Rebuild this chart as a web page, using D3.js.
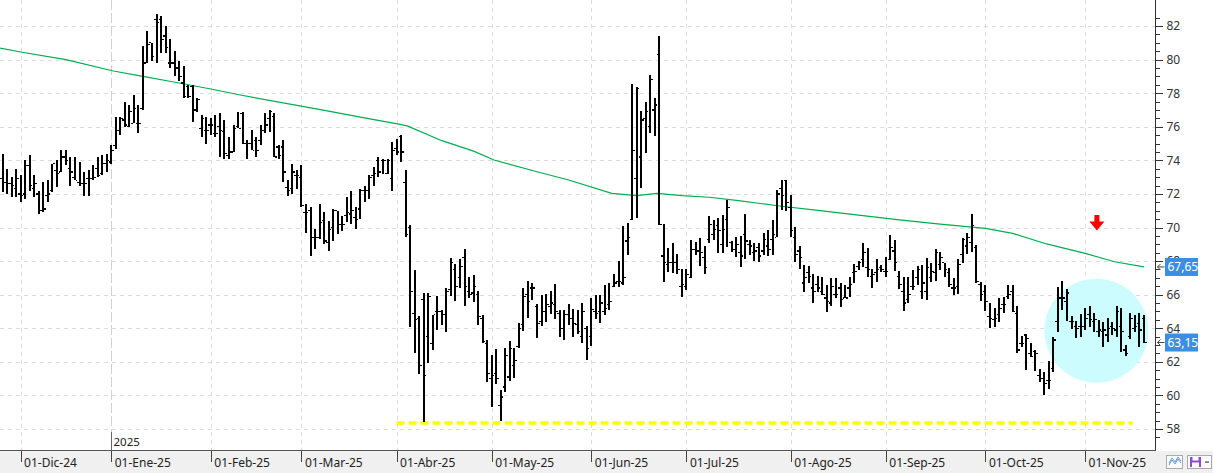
<!DOCTYPE html>
<html>
<head>
<meta charset="utf-8">
<style>
body { margin: 0; background: #fff; overflow: hidden; }
svg { display: block; font-family: "Noto Sans", "DejaVu Sans", sans-serif; }
</style>
</head>
<body>
<svg id="chart" width="1213" height="473"></svg>
<script src="https://cdn.jsdelivr.net/npm/d3@7"></script>
<script>
// daily bars, late Nov 2024 -> mid Nov 2025
var highs = [
74.4,73.5,73.0,73.5,73.1,74.0,74.3,73.1,72.2,72.7,
72.8,73.8,74.0,74.6,74.6,74.2,74.2,73.9,73.3,73.4,
73.7,74.2,74.3,74.4,74.9,76.6,76.6,77.5,77.3,77.9,
77.3,80.8,81.7,81.0,82.7,82.6,82.0,81.2,80.5,79.9,
79.6,78.5,78.5,77.7,76.7,76.6,76.5,76.7,76.8,76.4,
75.4,76.1,76.9,76.9,75.2,75.8,75.4,76.1,76.8,77.0,
76.8,74.9,75.2,72.8,73.8,73.4,73.7,71.4,71.2,69.9,
71.4,70.9,70.4,71.1,71.0,70.7,71.8,72.2,71.2,72.3,
72.5,73.1,73.6,74.2,74.1,74.1,75.1,75.3,75.5,73.4,
70.15,67.47,64.7,66.1,66.1,64.8,65.9,65.1,66.4,68.2,
67.8,68.1,68.7,67.07,67.17,66.2,64.8,63.3,62.4,62.76,
60.32,62.84,63.24,62.84,64.29,66.37,66.81,66.67,65.42,65.98,
66.02,66.22,66.61,65.09,65.09,65.42,65.15,65.09,65.48,64.15,
65.78,65.98,65.98,66.57,66.67,67.21,68.0,70.11,70.25,78.53,
78.39,76.94,77.49,79.08,77.69,81.42,70.19,68.8,69.06,68.4,
67.53,67.53,69.26,69.12,69.35,68.9,70.68,70.45,70.54,70.74,
71.64,69.21,69.45,69.49,70.8,69.25,69.1,69.1,69.65,69.85,
70.45,72.23,72.83,72.83,71.93,70.05,68.9,67.77,67.7,67.23,
67.11,67.03,66.57,66.97,66.97,66.71,66.57,67.03,67.8,68.02,
69.1,68.76,67.5,68.1,67.77,68.22,69.55,69.25,67.43,67.07,
67.07,67.47,67.7,67.77,68.16,67.86,68.7,68.56,67.86,67.56,
66.97,68.1,69.35,69.65,70.8,68.96,66.77,66.57,65.48,65.18,
65.78,65.88,66.57,66.57,65.32,63.54,63.66,63.1,62.7,61.55,
61.41,62.07,63.46,66.43,66.83,66.32,64.73,64.45,64.85,65.18,
65.32,64.89,64.49,64.39,64.59,64.39,65.32,65.18,63.0,64.93,
64.79,64.89,64.79
];
var lows = [
72.1,72.0,71.8,71.8,71.5,71.7,72.2,71.8,70.8,70.9,
71.5,72.1,72.4,73.3,73.7,72.5,72.8,72.5,71.9,71.9,
72.8,73.0,73.1,73.3,73.8,74.7,75.5,76.0,76.0,76.2,
75.6,77.0,79.8,79.9,79.8,80.4,80.4,79.5,79.0,78.7,
77.7,77.7,76.3,76.9,75.4,75.0,75.5,75.4,74.2,74.1,
74.1,74.5,75.9,75.0,74.1,74.6,74.2,74.9,75.6,75.7,
74.2,74.1,72.7,71.9,72.0,72.3,71.2,69.7,68.3,68.7,
69.3,69.0,68.6,69.2,69.6,69.8,70.3,70.2,69.9,70.5,
71.5,71.7,72.5,73.0,73.2,73.2,72.2,74.3,73.9,69.45,
64.05,62.5,61.3,58.43,61.95,62.7,63.9,64.2,63.8,65.9,
65.6,66.4,65.3,65.78,65.54,64.2,63.1,60.8,59.3,60.66,
58.47,60.18,60.86,61.02,62.84,63.83,64.63,65.68,63.44,64.15,
64.35,64.83,64.55,63.5,63.3,64.19,63.5,63.64,63.1,62.11,
62.96,64.55,64.29,64.79,65.09,66.47,66.47,66.57,68.36,70.45,
70.55,72.37,74.42,75.61,75.47,70.15,66.77,67.33,67.27,67.21,
65.88,66.27,66.97,68.36,67.72,67.23,69.06,69.25,68.5,68.5,
68.86,68.56,68.22,67.67,68.1,68.36,68.02,67.96,68.36,68.3,
68.36,69.45,71.04,71.0,69.45,67.96,67.5,66.18,66.71,65.52,
66.18,65.98,64.98,65.32,65.78,65.28,65.78,65.84,66.67,67.47,
67.63,67.07,66.38,66.77,67.37,67.07,68.06,67.43,66.32,65.04,
65.48,66.28,66.57,65.72,65.68,66.77,66.83,67.47,67.07,66.44,
65.98,66.04,67.86,68.42,68.56,66.67,65.64,65.05,63.99,64.09,
64.39,64.89,65.72,64.99,62.54,62.9,61.51,62.3,61.47,60.82,
60.02,60.36,61.41,63.8,65.09,64.45,63.93,63.4,63.46,63.9,
64.09,63.8,63.5,62.86,63.2,63.6,63.46,62.6,62.35,63.34,
63.8,62.9,63.1
];
var opens = [
72.9,72.7,72.6,72.3,72.0,72.0,73.7,72.3,72.0,71.0,
71.9,72.2,73.4,73.3,74.2,73.5,73.0,72.7,72.6,72.9,
72.9,73.5,73.2,73.8,73.9,74.9,75.8,76.4,76.0,76.2,
76.2,77.1,79.8,81.0,82.4,82.4,81.4,79.8,79.8,79.5,
78.6,78.4,78.4,77.0,75.9,75.8,76.1,75.6,76.0,75.7,
74.3,74.5,76.0,76.8,75.0,75.0,75.2,75.2,75.8,76.5,
76.6,74.8,74.8,72.4,72.3,73.1,73.0,70.9,71.0,69.4,
69.4,70.4,69.1,70.0,71.0,70.2,70.7,70.8,70.6,71.1,
72.2,72.2,73.1,74.0,74.0,73.2,72.9,74.7,75.4,72.7,
70.0,64.9,64.6,65.7,63.5,63.1,65.0,65.0,64.8,66.3,
67.5,67.0,68.2,66.2,66.1,66.0,64.6,63.1,61.0,61.3,
59.4,60.5,61.1,61.8,62.9,64.2,66.0,66.4,65.3,64.4,
65.0,65.3,65.4,64.9,64.0,64.8,64.6,64.2,63.5,64.0,
63.5,65.0,65.0,65.0,65.4,66.5,66.8,66.7,69.2,70.5,
72.9,74.2,76.5,76.0,77.0,80.3,68.3,67.8,67.9,67.9,
66.5,66.5,67.0,68.7,68.6,68.2,69.3,69.6,70.1,69.0,
70.5,69.1,68.7,68.5,69.6,69.0,68.5,68.8,68.6,68.9,
69.3,69.4,72.3,72.8,71.2,69.4,68.6,66.7,67.3,66.4,
66.6,66.2,65.8,65.5,66.0,66.4,65.8,66.4,67.3,67.7,
68.1,67.6,67.1,67.3,67.6,67.4,68.1,68.6,67.1,66.2,
65.7,66.5,67.0,66.2,66.2,67.0,67.3,67.8,67.9,67.3,
66.4,66.5,68.4,68.9,69.1,68.8,66.6,66.2,64.7,64.5,
64.8,65.4,65.9,66.2,64.9,63.1,63.6,62.5,62.6,61.2,
61.0,60.9,61.6,64.4,65.8,65.6,64.4,64.1,64.1,64.1,
64.8,64.4,63.8,63.8,63.6,64.1,63.9,64.1,62.7,63.5,
64.0,64.3,64.6
];
var closes = [
72.7,72.6,72.5,72.9,71.9,73.7,72.5,72.6,71.0,71.1,
72.0,73.8,73.2,74.2,74.0,73.3,72.8,72.6,72.6,72.9,
73.0,73.1,73.8,74.0,74.6,75.8,76.5,76.1,76.9,77.1,
76.2,79.8,80.9,80.2,82.2,81.2,80.7,79.8,79.5,79.0,
77.8,77.8,77.0,77.6,76.5,75.8,76.1,75.6,75.8,74.4,
74.5,75.9,75.9,75.0,75.0,74.6,74.6,75.8,76.1,76.9,
74.2,74.3,73.3,72.2,73.3,73.1,71.3,70.9,69.4,69.4,
70.3,69.2,69.9,71.0,70.2,70.2,70.9,71.0,70.5,72.2,
72.2,73.0,73.2,73.3,74.0,74.0,74.6,74.5,74.5,69.6,
66.2,64.5,61.8,61.2,65.9,64.8,65.0,64.8,66.2,67.9,
66.5,67.7,66.5,66.0,66.5,64.7,63.2,61.3,61.2,61.0,
59.9,62.4,62.8,62.1,64.0,65.9,65.6,66.4,64.3,65.0,
65.4,65.5,65.0,64.0,64.8,64.6,64.3,63.8,65.0,62.8,
65.1,64.9,65.5,65.2,65.6,66.7,66.8,67.0,69.4,74.6,
78.3,76.4,76.9,78.8,77.3,70.2,67.9,67.9,67.9,67.5,
66.6,67.2,68.7,68.6,68.5,67.6,70.2,69.9,69.8,69.9,
71.2,68.7,69.0,68.3,69.2,68.9,68.6,68.3,69.3,68.7,
69.6,72.0,71.9,71.5,69.8,68.4,68.2,67.0,67.1,66.2,
66.4,66.0,65.6,66.5,66.0,65.7,65.8,66.6,67.4,67.9,
68.5,67.5,67.2,67.5,67.5,67.4,68.8,67.9,66.6,65.5,
66.0,66.5,67.5,66.7,67.6,67.4,68.5,68.2,67.5,66.6,
66.4,67.8,69.3,69.4,70.1,66.8,66.0,65.6,64.6,64.6,
65.2,65.4,66.0,65.0,62.7,63.1,63.4,62.3,62.5,61.0,
60.7,60.9,63.3,65.8,65.8,66.1,64.4,64.0,64.1,64.6,
64.5,64.5,63.9,63.9,64.0,64.0,65.0,63.8,62.5,64.6,
64.1,63.9,63.15
];

// moving average, read at sample bars
var maIndex = [-0.5, 4, 14, 24.5, 31, 37.5, 46, 52.5, 70.5, 80.5, 87.5, 89.5, 97, 104, 108.5, 118, 125, 134.5, 140, 144.5, 150, 156, 162.5, 171.5, 180.5, 189, 198, 207, 217, 223, 230.5, 239, 245.5, 252];
var maValue = [80.68, 80.45, 80.0, 79.32, 79.0, 78.68, 78.25, 77.89, 77.0, 76.5, 76.16, 76.04, 75.17, 74.55, 74.02, 73.32, 72.83, 72.03, 71.9, 72.03, 71.9, 71.8, 71.6, 71.28, 71.0, 70.74, 70.45, 70.2, 69.95, 69.65, 69.02, 68.46, 67.96, 67.65];

var monthLabels = ["01-Dic-24", "01-Ene-25", "01-Feb-25", "01-Mar-25", "01-Abr-25", "01-May-25", "01-Jun-25", "01-Jul-25", "01-Ago-25", "01-Sep-25", "01-Oct-25", "01-Nov-25"];
var monthIndex = [4, 24, 46, 66, 87, 108, 130, 151, 174, 195, 217, 239];
var yearIndex = 24, yearLabel = "2025";

var yTicks = [58, 60, 62, 64, 66, 68, 70, 72, 74, 76, 78, 80, 82];
var yMinor = d3.range(57.5, 83, 0.5);

var support = { value: 58.35, from: 87, to: 249.5 };
var zone = { index: 241.5, value: 63.85 };
var arrowAt = { index: 241.6, value: 70.75 };
var lastValues = [67.65, 63.15];

var W = 1213, H = 473;
var axisX = 1155.5, axisY = 450.5;
var svg = d3.select("#chart");

var x = d3.scaleLinear().domain([0, highs.length - 1]).range([2.5, 1144]);
var y = d3.scaleLinear().domain([58, 82]).range([429, 26]);

var fmt = d3.formatLocale({ decimal: ",", thousands: ".", grouping: [3], currency: ["", ""] }).format(".2f");

// bottom strip
svg.append("rect")
  .attr("x", 0).attr("y", 451).attr("width", W).attr("height", H - 451)
  .attr("fill", "#f0f0f0");

// grid
var grid = svg.append("g").attr("shape-rendering", "crispEdges").attr("fill", "none");
grid.selectAll(".gh").data(yTicks).join("line").attr("class", "gh")
  .attr("x1", 0).attr("x2", axisX)
  .attr("y1", function(d) { return Math.round(y(d)) + 0.5; })
  .attr("y2", function(d) { return Math.round(y(d)) + 0.5; })
  .attr("stroke", "#dcdcdc").attr("stroke-dasharray", "4,4");
grid.selectAll(".gv").data(monthIndex).join("line").attr("class", "gv")
  .attr("x1", function(d) { return Math.round(x(d)) + 0.5; })
  .attr("x2", function(d) { return Math.round(x(d)) + 0.5; })
  .attr("y1", 0).attr("y2", axisY)
  .attr("stroke", function(d) { return d === yearIndex ? "#d0d0d0" : "#dcdcdc"; })
  .attr("stroke-width", function(d) { return d === yearIndex ? 1.5 : 1; })
  .attr("stroke-dasharray", function(d) { return d === yearIndex ? "10,3" : "4,4"; });

// highlighted zone
svg.append("circle")
  .attr("cx", x(zone.index)).attr("cy", y(zone.value)).attr("r", 52)
  .attr("fill", "#ccfcfd");

// support line
svg.append("line")
  .attr("x1", x(support.from)).attr("x2", x(support.to))
  .attr("y1", y(support.value)).attr("y2", y(support.value))
  .attr("stroke", "#ffff00").attr("stroke-width", 3.5).attr("stroke-dasharray", "8,4");

// moving average
svg.append("path")
  .datum(maIndex.map(function(d, i) { return [d, maValue[i]]; }))
  .attr("fill", "none").attr("stroke", "#00ad4f").attr("stroke-width", 1.2)
  .attr("d", d3.line().x(function(d) { return x(d[0]); }).y(function(d) { return y(d[1]); }));

// OHLC bars
var bars = svg.append("g").attr("stroke", "#000").attr("shape-rendering", "crispEdges");
var idx = d3.range(highs.length);
bars.selectAll(".hl").data(idx).join("line").attr("class", "hl")
  .attr("x1", function(i) { return x(i); }).attr("x2", function(i) { return x(i); })
  .attr("y1", function(i) { return y(highs[i]); }).attr("y2", function(i) { return y(lows[i]); })
  .attr("stroke-width", 2);
bars.selectAll(".op").data(idx).join("line").attr("class", "op")
  .attr("x1", function(i) { return x(i) - 2.5; }).attr("x2", function(i) { return x(i) - 1; })
  .attr("y1", function(i) { return y(opens[i]); }).attr("y2", function(i) { return y(opens[i]); })
  .attr("stroke-width", 1.2);
bars.selectAll(".cl").data(idx).join("line").attr("class", "cl")
  .attr("x1", function(i) { return x(i) + 1; }).attr("x2", function(i) { return x(i) + 2.5; })
  .attr("y1", function(i) { return y(closes[i]); }).attr("y2", function(i) { return y(closes[i]); })
  .attr("stroke-width", 1.2);

// red arrow
var ax = x(arrowAt.index), ay = y(arrowAt.value);
svg.append("path")
  .attr("d", "M" + (ax - 2.5) + "," + ay + "h5v6.5h5l-7.5,9l-7.5,-9h5z")
  .attr("fill", "#ff0000");

// right axis
svg.append("line")
  .attr("x1", axisX).attr("x2", axisX).attr("y1", 0).attr("y2", axisY)
  .attr("stroke", "#333").attr("shape-rendering", "crispEdges");
var yMinorAxis = svg.append("g").attr("transform", "translate(" + axisX + ",0)")
  .call(d3.axisRight(y).tickValues(yMinor).tickSize(4).tickFormat(""));
var yAxis = svg.append("g").attr("transform", "translate(" + axisX + ",0)")
  .call(d3.axisRight(y).tickValues(yTicks).tickSize(7).tickPadding(4));
[yMinorAxis, yAxis].forEach(function(g) {
  g.select(".domain").remove();
  g.selectAll("line").attr("stroke", "#333").attr("shape-rendering", "crispEdges");
});
yAxis.selectAll("text").attr("font-size", 12).attr("fill", "#333").attr("font-family", "Noto Sans, sans-serif");

// bottom axis
svg.append("line")
  .attr("x1", 0).attr("x2", axisX).attr("y1", axisY).attr("y2", axisY)
  .attr("stroke", "#555").attr("shape-rendering", "crispEdges");
var xAxis = svg.append("g").attr("transform", "translate(0," + axisY + ")")
  .call(d3.axisBottom(x).tickValues(monthIndex).tickSize(11)
    .tickFormat(function(d, i) { return monthLabels[i]; }));
xAxis.select(".domain").remove();
xAxis.selectAll("line").attr("stroke", "#444").attr("shape-rendering", "crispEdges");
xAxis.selectAll("text")
  .attr("text-anchor", "start").attr("x", 3).attr("y", 16.5).attr("dy", null)
  .attr("font-size", 12).attr("fill", "#222").attr("font-family", "Noto Sans, sans-serif");

// year marker
var yx = Math.round(x(yearIndex)) + 0.5;
svg.append("line")
  .attr("x1", yx).attr("x2", yx).attr("y1", 432).attr("y2", axisY)
  .attr("stroke", "#666").attr("shape-rendering", "crispEdges");
svg.append("text")
  .attr("x", yx + 2).attr("y", 446)
  .attr("font-size", 11.5).attr("fill", "#222")
  .text(yearLabel);

// last value tags (they sit over the axis labels, as in the original)
var tags = svg.selectAll(".tag").data(lastValues).join("g").attr("class", "tag")
  .attr("transform", function(d) { return "translate(0," + y(d) + ")"; });
tags.append("path")
  .attr("d", "M1157.5,0h7M1157.5,0l3,-3M1157.5,0l3,3")
  .attr("stroke", "#444").attr("fill", "none");
tags.append("rect")
  .attr("x", 1165).attr("y", -9).attr("width", 33).attr("height", 18)
  .attr("fill", "#3a8ee3");
tags.append("text")
  .attr("x", 1167.5).attr("y", 4.5)
  .attr("font-size", 12).attr("fill", "#fff")
  .text(function(d) { return fmt(d); });

// toolbar buttons
svg.append("rect").attr("x", 1166.5).attr("y", 455.5).attr("width", 16).attr("height", 13)
  .attr("fill", "#fbfbfb").attr("stroke", "#aaa");
svg.append("path").attr("d", "M1169,465l3,-5l3,4l3,-5l3,4M1169,463l3,-5l3,4l3,-5l3,4")
  .attr("fill", "none").attr("stroke", "#6a9ad8").attr("stroke-width", 1);
svg.append("rect").attr("x", 1187.5).attr("y", 455.5).attr("width", 24).attr("height", 13)
  .attr("fill", "#fbfbfb").attr("stroke", "#aaa");
svg.append("rect").attr("x", 1190).attr("y", 457).attr("width", 11).attr("height", 10)
  .attr("fill", "#8a4fc9");
svg.append("rect").attr("x", 1192.5).attr("y", 457).attr("width", 6).attr("height", 3.5)
  .attr("fill", "#fff");
svg.append("rect").attr("x", 1192).attr("y", 462.5).attr("width", 7).attr("height", 4.5)
  .attr("fill", "#fff");
svg.append("rect").attr("x", 1205).attr("y", 461.5).attr("width", 4).attr("height", 1.2)
  .attr("fill", "#444");
</script>
</body>
</html>
